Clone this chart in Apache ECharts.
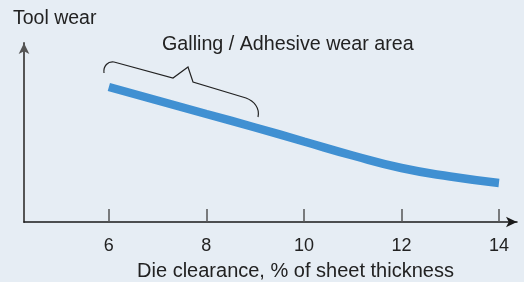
<!DOCTYPE html>
<html>
<head>
<meta charset="utf-8">
<script src="https://cdn.jsdelivr.net/npm/echarts@6/dist/echarts.min.js"></script>
<style>
  html, body { margin: 0; padding: 0; background: #e6edf4; }
  #chart { width: 524px; height: 282px; }
</style>
</head>
<body>
<div id="chart"></div>
<script>
  // die clearance (% of sheet thickness) vs tool wear (no unit on the axis)
  var clearance = [6, 7, 8, 9, 10, 11, 12, 13, 14]
  var toolWear = [135, 121.5, 108, 94.5, 80.5, 66.5, 54, 45.5, 39]
  var tickValues = [6, 8, 10, 12, 14]

  var chart = echarts.init(document.getElementById('chart'))
  var font = 'Liberation Sans, Arial, Helvetica, sans-serif'
  var braceStyle = {fill: null, stroke: '#222', lineWidth: 1.2}

  chart.setOption({
    backgroundColor: '#e6edf4',
    animation: false,
    grid: {
      left: 24,
      right: 7,
      top: 43,
      bottom: 60,
      outerBoundsMode: 'none'
    },
    xAxis: {
      type: 'value',
      min: 4.26,
      max: 14.37,
      name: 'Die clearance, % of sheet thickness',
      nameLocation: 'middle',
      nameGap: 39,
      nameTextStyle: {color: '#222', fontSize: 20, fontFamily: font, padding: [0, 0, 0, 50]},
      splitLine: {show: false},
      axisLine: {
        lineStyle: {color: '#1a1a1a', width: 1.5},
        symbol: ['none', 'arrow'],
        symbolSize: [8, 11]
      },
      axisTick: {
        inside: true,
        length: 13,
        customValues: tickValues,
        lineStyle: {color: '#555', width: 1.5}
      },
      axisLabel: {
        customValues: tickValues,
        margin: 15,
        color: '#222',
        fontSize: 18,
        fontFamily: font
      }
    },
    yAxis: {
      type: 'value',
      min: 0,
      max: 179,
      splitLine: {show: false},
      axisTick: {show: false},
      axisLabel: {show: false},
      axisLine: {
        show: true,
        lineStyle: {color: '#555', width: 2},
        symbol: ['none', 'arrow'],
        symbolSize: [8, 11]
      }
    },
    graphic: [
      {
        type: 'text',
        left: 13,
        top: 9,
        style: {text: 'Tool wear', fill: '#222', fontSize: 19.5, fontFamily: font}
      },
      {
        type: 'text',
        left: 162,
        top: 35,
        style: {text: 'Galling / Adhesive wear area', fill: '#222', fontSize: 19.7, fontFamily: font}
      },
      // curly brace over the galling zone
      {
        type: 'bezierCurve',
        shape: {x1: 104, y1: 73, cpx1: 103, cpy1: 66, cpx2: 108, cpy2: 61, x2: 114, y2: 62},
        style: braceStyle
      },
      {
        type: 'polyline',
        shape: {points: [[114, 62], [173, 78], [188, 67], [193, 82], [246, 98]]},
        style: braceStyle
      },
      {
        type: 'bezierCurve',
        shape: {x1: 246, y1: 98, cpx1: 254, cpy1: 101, cpx2: 260, cpy2: 108, x2: 258, y2: 117},
        style: braceStyle
      }
    ],
    series: [
      {
        type: 'line',
        data: clearance.map(function (c, i) { return [c, toolWear[i]] }),
        smooth: true,
        showSymbol: false,
        lineStyle: {color: '#4090d2', width: 8.5, cap: 'butt'}
      }
    ]
  })
</script>
</body>
</html>
